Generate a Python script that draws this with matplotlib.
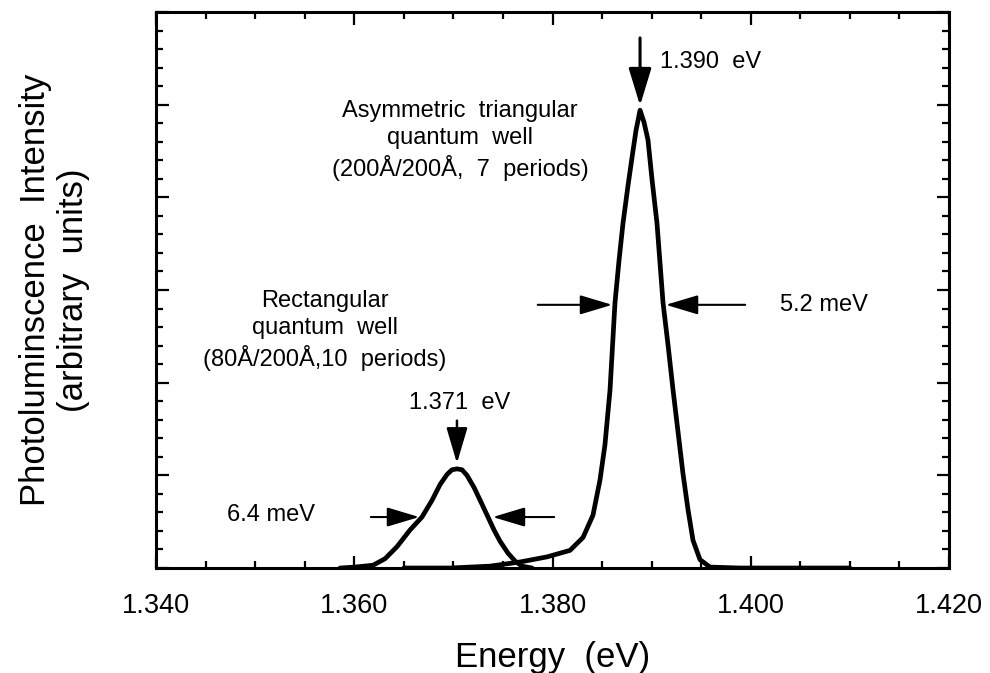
import numpy as np
import matplotlib
matplotlib.use("Agg")
import matplotlib.pyplot as plt
from matplotlib.ticker import MultipleLocator

plt.rcParams['font.family'] = ['Liberation Sans', 'DejaVu Sans']

# rectangular quantum well (80A/200A, 10 periods)
rect_energy = [1.35856, 1.36008, 1.36189, 1.36310, 1.36431, 1.36562, 1.36683,
               1.36784, 1.36865, 1.36936, 1.36986, 1.37036, 1.37087, 1.37137,
               1.37208, 1.37279, 1.37349, 1.37410, 1.37470, 1.37551, 1.37622,
               1.37692, 1.37793]
rect_pl = [0.0, 0.01, 0.03, 0.10, 0.23, 0.41, 0.55, 0.73, 0.90, 1.01, 1.06,
           1.07, 1.06, 1.00, 0.87, 0.71, 0.55, 0.41, 0.29, 0.16, 0.075, 0.02, 0.0]

# asymmetric triangular quantum well (200A/200A, 7 periods)
tri_energy = [1.36500, 1.36966, 1.37369, 1.37672, 1.37944, 1.38176, 1.38308,
              1.38408, 1.38479, 1.38529, 1.38580, 1.38630, 1.38671, 1.38711,
              1.38762, 1.38802, 1.38842, 1.38883, 1.38923, 1.38963, 1.39004,
              1.39054, 1.39115, 1.39165, 1.39216, 1.39266, 1.39316, 1.39367,
              1.39417, 1.39488, 1.39589, 1.39891, 1.41000]
tri_pl = [0.0, 0.0, 0.02, 0.065, 0.12, 0.19, 0.33, 0.57, 0.95, 1.33, 1.92, 2.86,
          3.32, 3.72, 4.13, 4.43, 4.72, 4.94, 4.81, 4.62, 4.19, 3.72, 2.86,
          2.41, 1.92, 1.47, 1.02, 0.63, 0.30, 0.09, 0.01, 0.0, 0.0]

x_ticks = [1.340, 1.360, 1.380, 1.400, 1.420]
x_ticklabels = ['1.340', '1.360', '1.380', '1.400', '1.420']

fig = plt.figure(figsize=(9.9, 6.73), dpi=100)
ax = fig.add_axes([0.1576, 0.156, 0.801, 0.8262])

ax.plot(rect_energy, rect_pl, color='black', lw=3.4, solid_capstyle='round')
ax.plot(tri_energy, tri_pl, color='black', lw=3.4, solid_capstyle='round')

ax.set_xlim(1.340, 1.420)
ax.set_ylim(0, 6)
ax.set_xticks(x_ticks)
ax.set_xticklabels(x_ticklabels)
ax.xaxis.set_minor_locator(MultipleLocator(0.005))
ax.yaxis.set_major_locator(MultipleLocator(1))
ax.yaxis.set_minor_locator(MultipleLocator(0.2))
ax.tick_params(which='both', direction='in', top=True, right=True, width=1.6)
ax.tick_params(which='major', length=9)
ax.tick_params(which='minor', length=5)
ax.tick_params(axis='x', labelsize=19.5, pad=18)
ax.tick_params(axis='y', labelleft=False)
for s in ax.spines.values():
    s.set_linewidth(2.2)

ax.set_xlabel('Energy  (eV)', fontsize=25, labelpad=16)
ax.set_ylabel('Photoluminscence  Intensity\n(arbitrary  units)', fontsize=25,
              labelpad=44, linespacing=1.2)

txt = dict(fontsize=17, color='black')

# 1.390 eV peak
ax.annotate('', xy=(1.38883, 4.96), xytext=(1.38883, 5.75),
            arrowprops=dict(arrowstyle='-|>,head_length=2.3,head_width=0.7',
                            mutation_scale=10, lw=2.2, color='black'))
ax.text(1.39084, 5.46, '1.390  eV', ha='left', va='center', **txt)
ax.text(1.37067, 4.61, 'Asymmetric  triangular\nquantum  well\n(200Å/200Å,  7  periods)',
        ha='center', va='center', linespacing=1.3, **txt)

# 5.2 meV width
ax.annotate('', xy=(1.38630, 2.84), xytext=(1.37823, 2.84),
            arrowprops=dict(arrowstyle='-|>,head_length=2.0,head_width=0.6',
                            mutation_scale=10, lw=1.5, color='black'))
ax.annotate('', xy=(1.39115, 2.84), xytext=(1.39972, 2.84),
            arrowprops=dict(arrowstyle='-|>,head_length=2.0,head_width=0.6',
                            mutation_scale=10, lw=1.5, color='black'))
ax.text(1.40295, 2.84, '5.2 meV', ha='left', va='center', **txt)

# 1.371 eV peak
ax.text(1.35705, 2.56, 'Rectangular\nquantum  well\n(80Å/200Å,10  periods)',
        ha='center', va='center', linespacing=1.3, **txt)
ax.text(1.37067, 1.78, '1.371  eV', ha='center', va='center', **txt)
ax.annotate('', xy=(1.37036, 1.10), xytext=(1.37036, 1.62),
            arrowprops=dict(arrowstyle='-|>,head_length=2.2,head_width=0.65',
                            mutation_scale=10, lw=1.8, color='black'))

# 6.4 meV width
ax.annotate('', xy=(1.36683, 0.55), xytext=(1.36139, 0.55),
            arrowprops=dict(arrowstyle='-|>,head_length=2.0,head_width=0.6',
                            mutation_scale=10, lw=1.5, color='black'))
ax.annotate('', xy=(1.37369, 0.55), xytext=(1.38045, 0.55),
            arrowprops=dict(arrowstyle='-|>,head_length=2.0,head_width=0.6',
                            mutation_scale=10, lw=1.5, color='black'))
ax.text(1.34716, 0.57, '6.4 meV', ha='left', va='center', **txt)

fig.savefig('out.png', dpi=100)
